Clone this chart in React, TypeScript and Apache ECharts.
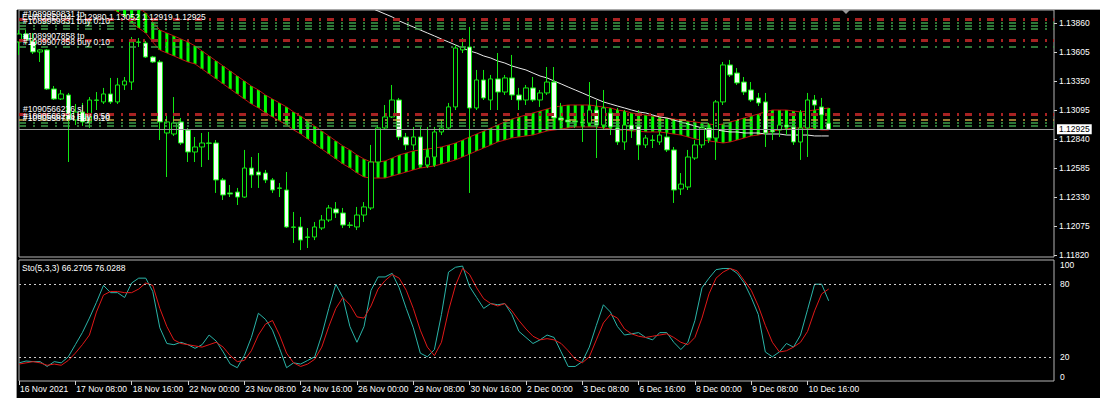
import React, { useEffect, useRef } from 'react';
import * as echarts from 'echarts';

// ---------- DATA ----------
const symbolName = 'EURUSD,H4';
const timeLabels = ['16 Nov 2021', '17 Nov 08:00', '18 Nov 16:00', '22 Nov 00:00', '23 Nov 08:00', '24 Nov 16:00', '26 Nov 00:00', '29 Nov 08:00', '30 Nov 16:00', '2 Dec 00:00', '3 Dec 08:00', '6 Dec 16:00', '8 Dec 00:00', '9 Dec 08:00', '10 Dec 16:00'];
const barsPerLabel = 8;
const slotCount = 148;

const open = [1.13693, 1.13763, 1.13702, 1.13605, 1.13623, 1.13280, 1.13192, 1.13227, 1.13007, 1.13078,
  1.12990, 1.13183, 1.13166, 1.13236, 1.13166, 1.13315, 1.13341, 1.13693, 1.13684, 1.13561,
  1.13517, 1.12893, 1.12884, 1.12990, 1.12919, 1.12726, 1.12770, 1.12805, 1.12805, 1.12480,
  1.12366, 1.12374, 1.12330, 1.12585, 1.12550, 1.12541, 1.12480, 1.12410, 1.12392, 1.12067,
  1.12067, 1.11979, 1.11979, 1.12058, 1.12128, 1.12225, 1.12190, 1.12084, 1.12067, 1.12172,
  1.12234, 1.12638, 1.12937, 1.13034, 1.13183, 1.12858, 1.12788, 1.12858, 1.12612, 1.12682,
  1.12902, 1.12937, 1.13122, 1.13623, 1.13649, 1.13113, 1.13359, 1.13183, 1.13368, 1.13253,
  1.13377, 1.13227, 1.13183, 1.13289, 1.13183, 1.13245, 1.13341, 1.13025, 1.13007, 1.12999,
  1.12990, 1.12981, 1.13095, 1.12963, 1.13069, 1.12937, 1.12814, 1.12963, 1.12963, 1.12788,
  1.12831, 1.12814, 1.12858, 1.12744, 1.12401, 1.12418, 1.12673, 1.12788, 1.12937, 1.12849,
  1.13166, 1.13491, 1.13420, 1.13341, 1.13271, 1.13201, 1.13166, 1.12919, 1.12919, 1.12963,
  1.12946, 1.12814, 1.12937, 1.13183, 1.13122, 1.12980];
const close = [1.13763, 1.13711, 1.13605, 1.13623, 1.13280, 1.13192, 1.13236, 1.13007, 1.13078, 1.12990,
  1.13183, 1.13180, 1.13236, 1.13166, 1.13315, 1.13350, 1.13693, 1.13690, 1.13561, 1.13517,
  1.12990, 1.12990, 1.12981, 1.12805, 1.12726, 1.12770, 1.12805, 1.12802, 1.12480, 1.12348,
  1.12357, 1.12330, 1.12585, 1.12524, 1.12524, 1.12480, 1.12392, 1.12407, 1.12067, 1.12064,
  1.11952, 1.11976, 1.12067, 1.12128, 1.12234, 1.12190, 1.12084, 1.12081, 1.12172, 1.12243,
  1.12638, 1.12937, 1.13034, 1.13183, 1.12858, 1.12788, 1.12858, 1.12612, 1.12682, 1.12902,
  1.12937, 1.13122, 1.13640, 1.13649, 1.13113, 1.13359, 1.13201, 1.13368, 1.13253, 1.13377,
  1.13227, 1.13183, 1.13289, 1.13183, 1.13245, 1.13341, 1.13025, 1.13007, 1.12990, 1.12990,
  1.12981, 1.13095, 1.12963, 1.13113, 1.12946, 1.12814, 1.12963, 1.12919, 1.12788, 1.12849,
  1.12828, 1.12875, 1.12744, 1.12392, 1.12444, 1.12682, 1.12788, 1.12937, 1.12849, 1.13166,
  1.13491, 1.13403, 1.13333, 1.13253, 1.13183, 1.13157, 1.12893, 1.12902, 1.12963, 1.12946,
  1.12814, 1.12937, 1.13183, 1.13139, 1.13051, 1.12925];
const low = [1.13579, 1.13675, 1.13587, 1.13517, 1.13271, 1.13183, 1.13183, 1.12638, 1.12963, 1.12955,
  1.12937, 1.13095, 1.13148, 1.13148, 1.13148, 1.13271, 1.13271, 1.13649, 1.13552, 1.13508,
  1.12831, 1.12506, 1.12867, 1.12788, 1.12638, 1.12638, 1.12594, 1.12656, 1.12366, 1.12304,
  1.12330, 1.12260, 1.12322, 1.12410, 1.12410, 1.12453, 1.12366, 1.12330, 1.12058, 1.11926,
  1.11864, 1.11882, 1.11952, 1.12040, 1.12111, 1.12146, 1.12058, 1.12058, 1.12040, 1.12111,
  1.12216, 1.12612, 1.12919, 1.13025, 1.12831, 1.12744, 1.12744, 1.12594, 1.12585, 1.12594,
  1.12875, 1.12919, 1.13095, 1.13596, 1.12366, 1.13095, 1.13183, 1.13095, 1.13095, 1.13227,
  1.13183, 1.13095, 1.13139, 1.13166, 1.13122, 1.13227, 1.13007, 1.12981, 1.12963, 1.12937,
  1.12814, 1.12963, 1.12673, 1.12919, 1.12875, 1.12788, 1.12744, 1.12849, 1.12656, 1.12761,
  1.12761, 1.12788, 1.12726, 1.12278, 1.12348, 1.12392, 1.12656, 1.12761, 1.12805, 1.12656,
  1.13139, 1.13385, 1.13315, 1.13227, 1.13166, 1.13130, 1.12770, 1.12831, 1.12858, 1.12875,
  1.12788, 1.12656, 1.12682, 1.13095, 1.12999, 1.12919];
const high = [1.13798, 1.13798, 1.13772, 1.13631, 1.13631, 1.13306, 1.13271, 1.13245, 1.13148, 1.13157,
  1.13209, 1.13253, 1.13289, 1.13377, 1.13377, 1.13385, 1.13737, 1.13728, 1.13702, 1.13570,
  1.13535, 1.13051, 1.13209, 1.13025, 1.12937, 1.12858, 1.12893, 1.12902, 1.12831, 1.12497,
  1.12436, 1.12410, 1.12744, 1.12682, 1.12717, 1.12568, 1.12497, 1.12453, 1.12550, 1.12199,
  1.12155, 1.12058, 1.12111, 1.12172, 1.12260, 1.12286, 1.12234, 1.12111, 1.12243, 1.12286,
  1.12788, 1.12963, 1.13139, 1.13315, 1.13201, 1.12893, 1.12946, 1.12946, 1.12946, 1.12946,
  1.13007, 1.13157, 1.13667, 1.13728, 1.13825, 1.13447, 1.13447, 1.13403, 1.13596, 1.13403,
  1.13579, 1.13289, 1.13315, 1.13385, 1.13271, 1.13473, 1.13473, 1.13157, 1.13122, 1.13122,
  1.13122, 1.13341, 1.13183, 1.13271, 1.13113, 1.13113, 1.13095, 1.13025, 1.13095, 1.12875,
  1.12875, 1.12902, 1.12902, 1.12770, 1.12541, 1.12744, 1.12831, 1.12963, 1.12981, 1.13183,
  1.13517, 1.13535, 1.13464, 1.13385, 1.13341, 1.13245, 1.13245, 1.12946, 1.12981, 1.13007,
  1.13025, 1.13095, 1.13245, 1.13227, 1.13201, 1.13052];

const bandUpper = [1.14818, 1.14765, 1.14712, 1.14660, 1.14607, 1.14554, 1.14502, 1.14449, 1.14396, 1.14352,
  1.14308, 1.14264, 1.14220, 1.14176, 1.14132, 1.14088, 1.14036, 1.13992, 1.13948, 1.13869,
  1.13798, 1.13772, 1.13746, 1.13719, 1.13693, 1.13658, 1.13614, 1.13570, 1.13526, 1.13482,
  1.13438, 1.13394, 1.13350, 1.13306, 1.13271, 1.13227, 1.13192, 1.13157, 1.13122, 1.13078,
  1.13042, 1.12998, 1.12954, 1.12910, 1.12867, 1.12823, 1.12779, 1.12744, 1.12700, 1.12664,
  1.12638, 1.12638, 1.12647, 1.12673, 1.12700, 1.12717, 1.12735, 1.12744, 1.12752, 1.12761,
  1.12770, 1.12787, 1.12805, 1.12831, 1.12858, 1.12884, 1.12910, 1.12937, 1.12963, 1.12990,
  1.13016, 1.13034, 1.13051, 1.13069, 1.13086, 1.13104, 1.13121, 1.13130, 1.13139, 1.13139,
  1.13139, 1.13139, 1.13130, 1.13121, 1.13113, 1.13095, 1.13086, 1.13069, 1.13060, 1.13051,
  1.13042, 1.13034, 1.13025, 1.13016, 1.13007, 1.12998, 1.12990, 1.12981, 1.12972, 1.12963,
  1.12972, 1.12990, 1.13007, 1.13025, 1.13042, 1.13060, 1.13078, 1.13095, 1.13095, 1.13095,
  1.13086, 1.13078, 1.13086, 1.13095, 1.13104, 1.13113];
const bandLower = [1.14642, 1.14589, 1.14536, 1.14484, 1.14431, 1.14378, 1.14326, 1.14273, 1.14220, 1.14176,
  1.14132, 1.14088, 1.14044, 1.14000, 1.13956, 1.13912, 1.13860, 1.13816, 1.13772, 1.13693,
  1.13622, 1.13596, 1.13570, 1.13543, 1.13517, 1.13500, 1.13456, 1.13412, 1.13368, 1.13324,
  1.13280, 1.13236, 1.13192, 1.13148, 1.13113, 1.13069, 1.13034, 1.12999, 1.12964, 1.12920,
  1.12884, 1.12840, 1.12796, 1.12752, 1.12709, 1.12665, 1.12621, 1.12586, 1.12542, 1.12506,
  1.12497, 1.12497, 1.12497, 1.12515, 1.12532, 1.12550, 1.12568, 1.12585, 1.12594, 1.12603,
  1.12620, 1.12638, 1.12656, 1.12682, 1.12708, 1.12735, 1.12761, 1.12787, 1.12814, 1.12831,
  1.12849, 1.12858, 1.12867, 1.12875, 1.12893, 1.12911, 1.12919, 1.12928, 1.12937, 1.12946,
  1.12946, 1.12946, 1.12946, 1.12937, 1.12928, 1.12919, 1.12919, 1.12911, 1.12911, 1.12902,
  1.12902, 1.12902, 1.12893, 1.12884, 1.12875, 1.12858, 1.12840, 1.12831, 1.12823, 1.12814,
  1.12805, 1.12814, 1.12831, 1.12849, 1.12867, 1.12875, 1.12893, 1.12911, 1.12919, 1.12928,
  1.12937, 1.12937, 1.12937, 1.12928, 1.12919, 1.12919];

const maStart = 48;
const maValues = [1.14053, 1.14027, 1.13992, 1.13965, 1.13939, 1.13913, 1.13878, 1.13851, 1.13825, 1.13798,
  1.13772, 1.13746, 1.13719, 1.13693, 1.13667, 1.13640, 1.13614, 1.13596, 1.13570, 1.13552,
  1.13526, 1.13508, 1.13482, 1.13464, 1.13447, 1.13420, 1.13394, 1.13377, 1.13350, 1.13324,
  1.13297, 1.13271, 1.13245, 1.13218, 1.13192, 1.13166, 1.13148, 1.13130, 1.13113, 1.13095,
  1.13078, 1.13069, 1.13051, 1.13034, 1.13025, 1.13007, 1.12990, 1.12972, 1.12955, 1.12937,
  1.12928, 1.12919, 1.12911, 1.12902, 1.12902, 1.12893, 1.12893, 1.12893, 1.12884, 1.12884,
  1.12884, 1.12875, 1.12875, 1.12875, 1.12875, 1.12867, 1.12867, 1.12867];

const stochMain = [15, 16.5, 16, 16, 12, 16, 15, 20, 30, 40,
  52, 65, 79, 73, 73, 69, 81, 85, 85, 74,
  44, 31, 30, 32, 30, 27, 30, 38, 33, 24,
  14, 11, 21, 36, 56, 51, 42, 27, 11, 15,
  14, 17, 20, 38, 60, 80, 69, 45, 32, 45,
  75, 86, 86, 89, 77, 60, 44, 23, 20, 26,
  55, 90, 94, 95, 78, 69, 60, 64, 63, 64,
  55, 41, 36, 31, 34, 38, 36, 24, 12, 12,
  16, 28, 46, 63, 57, 45, 38, 39, 40, 36,
  34, 40, 40, 32, 26, 32, 50, 77, 85, 92,
  93, 93, 89, 81, 69, 55, 24, 20, 24, 31,
  28, 38, 59, 80, 80, 66.27];
const stochSignal = [14, 15, 16, 15, 13, 14, 13, 17, 23, 30,
  38, 57, 71, 74, 74, 73, 73, 76, 81, 79,
  60, 45, 34, 31, 30, 29, 28, 30, 32, 28,
  21, 16, 17, 25, 38, 47, 50, 38, 23, 15,
  12, 14, 18, 28, 45, 60, 69, 63, 53, 52,
  62, 76, 83, 88, 85, 75, 60, 42, 28, 21,
  32, 58, 79, 93, 88, 77, 68, 64, 62, 64,
  58, 50, 43, 37, 34, 35, 34, 31, 25, 18,
  15, 20, 34, 48, 55, 52, 43, 39, 37, 36,
  37, 38, 39, 36, 32, 30, 36, 52, 72, 85,
  90, 93, 91, 83, 75, 62, 46, 32, 24, 25,
  28, 32, 41, 58, 72, 76.03];
const stochTitle = 'Sto(5,3,3) 66.2705 76.0288';

const priceTicks = [1.1182, 1.12075, 1.1233, 1.12585, 1.1284, 1.13095, 1.1335, 1.13605, 1.1386];
const stochTicks = [0, 20, 80, 100];
const stochLevels = [20, 80];
const bidPrice = 1.12925;

const orderLevels = [1.13895, 1.13866, 1.13836, 1.13807, 1.13704, 1.13652, 1.1306, 1.13007, 1.12981, 1.12954];
const orderTypes = ['sl', 'tp', 'tp', 'tp', 'sl', 'tp', 'sl', 'entry', 'tp', 'tp'];
const orderLabels = ['#1089959831 tp', '', '#1089959831 buy 0.10', '', '#1089907858 tp', '#1089907858 buy 0.10', '#1090566236 sl', '#1090566236 buy 0.50', '#1090558774 buy 0.10', ''];

const FONT = 'Liberation Sans';

export default function App() {
  const ref = useRef<HTMLDivElement>(null);

  useEffect(() => {
    const chart = echarts.init(ref.current as HTMLDivElement, null, { renderer: 'svg' });
    const n = open.length;
    const cats = Array.from({ length: slotCount }, (_, i) => String(i));
    const candles = open.map((o, i) => [o, close[i], low[i], high[i]]);
    const bandDiff = bandUpper.map((u, i) => +(u - bandLower[i]).toFixed(5));
    const ma = open.map((_, i) => (i >= maStart ? maValues[i - maStart] : null));
    const last = n - 1;
    const header = `${symbolName}  ${open[last].toFixed(5)} ${high[last].toFixed(5)} ${low[last].toFixed(5)} ${close[last].toFixed(5)}`;

    const orderStyle: Record<string, { color: string; width: number }> = {
      sl: { color: '#a82222', width: 3 },
      tp: { color: '#3f9f4a', width: 1.5 },
      entry: { color: '#c9a043', width: 1.5 },
    };
    const orderMarks = orderLevels.map((lv, k) => ({
      yAxis: lv,
      lineStyle: { color: orderStyle[orderTypes[k]].color, width: orderStyle[orderTypes[k]].width, type: [7, 7, 2, 6] },
      label: {
        show: !!orderLabels[k],
        formatter: orderLabels[k] || ' ',
        position: 'insideStartTop',
        color: '#ffffff',
        fontSize: 8.5,
        fontFamily: FONT,
        distance: [4, 0],
      },
    }));

    const txt = { color: '#ffffff', fontSize: 8.5, fontFamily: FONT };
    const showTime = (idx: number) => idx % barsPerLabel === 0 && idx / barsPerLabel < timeLabels.length;

    const option: any = {
      animation: false,
      backgroundColor: '#000000',
      title: [
        { text: header, left: 5, top: 2, padding: 0, textStyle: { ...txt, fontWeight: 'normal' } },
        { text: stochTitle, left: 5, top: 253, padding: 0, textStyle: { ...txt, fontWeight: 'normal' } },
      ],
      grid: [
        { left: 2, top: 0, width: 1035, height: 247, show: true, borderColor: '#b4b4b4', borderWidth: 1, backgroundColor: 'transparent' },
        { left: 2, top: 250, width: 1035, height: 121, show: true, borderColor: '#b4b4b4', borderWidth: 1, backgroundColor: 'transparent' },
      ],
      xAxis: [
        {
          type: 'category', gridIndex: 0, data: cats, boundaryGap: false,
          axisLine: { show: false }, axisTick: { show: false }, axisLabel: { show: false }, splitLine: { show: false },
        },
        {
          type: 'category', gridIndex: 1, data: cats, boundaryGap: false,
          axisLine: { show: false },
          axisTick: { show: true, interval: (i: number) => showTime(i), length: 4, lineStyle: { color: '#d0d0d0' } },
          axisLabel: {
            ...txt, interval: (i: number) => showTime(i), align: 'left', margin: 3, padding: [0, 0, 0, 1],
            formatter: (_v: string, i: number) => timeLabels[i / barsPerLabel] || '',
          },
          splitLine: { show: false },
        },
      ],
      yAxis: [
        {
          type: 'value', gridIndex: 0, position: 'right', min: 1.11803, max: 1.13974, scale: true,
          splitLine: { show: false }, axisLine: { show: false },
          axisTick: { show: true, customValues: priceTicks, length: 3, lineStyle: { color: '#d0d0d0' } },
          axisLabel: { ...txt, customValues: priceTicks, margin: 5, formatter: (v: number) => v.toFixed(5) },
        },
        {
          type: 'value', gridIndex: 1, position: 'right', min: 0, max: 100,
          splitLine: { show: false }, axisLine: { show: false }, axisTick: { show: false },
          axisLabel: { ...txt, customValues: stochTicks, margin: 6, verticalAlignMinLabel: 'bottom', verticalAlignMaxLabel: 'top' },
        },
      ],
      graphic: [
        { type: 'polygon', shape: { points: [[825, 0], [833, 0], [829, 4]] }, style: { fill: '#9a9a9a' } },
      ],
      series: [
        {
          name: 'levels', type: 'line', xAxisIndex: 0, yAxisIndex: 0, data: close, symbol: 'none', silent: true, z: 1,
          lineStyle: { opacity: 0 },
          markLine: {
            silent: true, symbol: ['none', 'none'], animation: false, precision: 5,
            data: [
              ...orderMarks,
              {
                yAxis: bidPrice,
                lineStyle: { color: '#9c9c9c', width: 1, type: 'solid' },
                label: {
                  show: true, position: 'end', formatter: bidPrice.toFixed(5), color: '#000000', backgroundColor: '#ffffff',
                  padding: [1, 2, 0, 2], fontSize: 8.5, fontFamily: FONT, distance: 3,
                },
              },
            ],
          },
        },
        {
          name: 'bandBase', type: 'bar', stack: 'band', xAxisIndex: 0, yAxisIndex: 0, data: bandLower,
          barWidth: 3, itemStyle: { color: 'transparent' }, silent: true, z: 2,
        },
        {
          name: 'band', type: 'bar', stack: 'band', xAxisIndex: 0, yAxisIndex: 0, data: bandDiff,
          barWidth: 3, itemStyle: { color: '#00ff00' }, silent: true, z: 2,
        },
        {
          name: 'bandUpper', type: 'line', xAxisIndex: 0, yAxisIndex: 0, data: bandUpper, symbol: 'none', silent: true, z: 3,
          lineStyle: { color: '#c01010', width: 1 },
        },
        {
          name: 'bandLower', type: 'line', xAxisIndex: 0, yAxisIndex: 0, data: bandLower, symbol: 'none', silent: true, z: 3,
          lineStyle: { color: '#c01010', width: 1 },
        },
        {
          name: 'ma', type: 'line', xAxisIndex: 0, yAxisIndex: 0, data: ma, symbol: 'none', silent: true, z: 3,
          lineStyle: { color: '#e8e8e8', width: 1 },
        },
        {
          name: 'price', type: 'candlestick', xAxisIndex: 0, yAxisIndex: 0, data: candles, barWidth: 5, z: 4,
          itemStyle: { color: '#000000', color0: '#f2fff2', borderColor: '#12e812', borderColor0: '#12e812', borderWidth: 1 },
        },
        {
          name: 'main', type: 'line', xAxisIndex: 1, yAxisIndex: 1, data: stochMain, symbol: 'none', silent: true, z: 3,
          lineStyle: { color: '#2ab4a8', width: 1 },
          markLine: {
            silent: true, symbol: ['none', 'none'],
            data: stochLevels.map((v) => ({ yAxis: v })),
            lineStyle: { color: '#cfcfcf', width: 1, type: [2, 3] },
            label: { show: false },
          },
        },
        {
          name: 'signal', type: 'line', xAxisIndex: 1, yAxisIndex: 1, data: stochSignal, symbol: 'none', silent: true, z: 3,
          lineStyle: { color: '#e01818', width: 1 },
        },
      ],
    };
    chart.setOption(option);
    return () => chart.dispose();
  }, []);

  return (
    <div style={{ position: 'fixed', left: 0, top: 0, width: 1100, height: 406, background: '#ffffff', overflow: 'hidden' }}>
      <div style={{ position: 'absolute', left: 16, top: 10, width: 1, height: 388, background: '#9a9a9a' }} />
      <div style={{ position: 'absolute', left: 17, top: 9, width: 1083, height: 1, background: '#a8a8a8' }} />
      <div ref={ref} style={{ position: 'absolute', left: 17, top: 10, width: 1083, height: 388, background: '#000000' }} />
    </div>
  );
}
